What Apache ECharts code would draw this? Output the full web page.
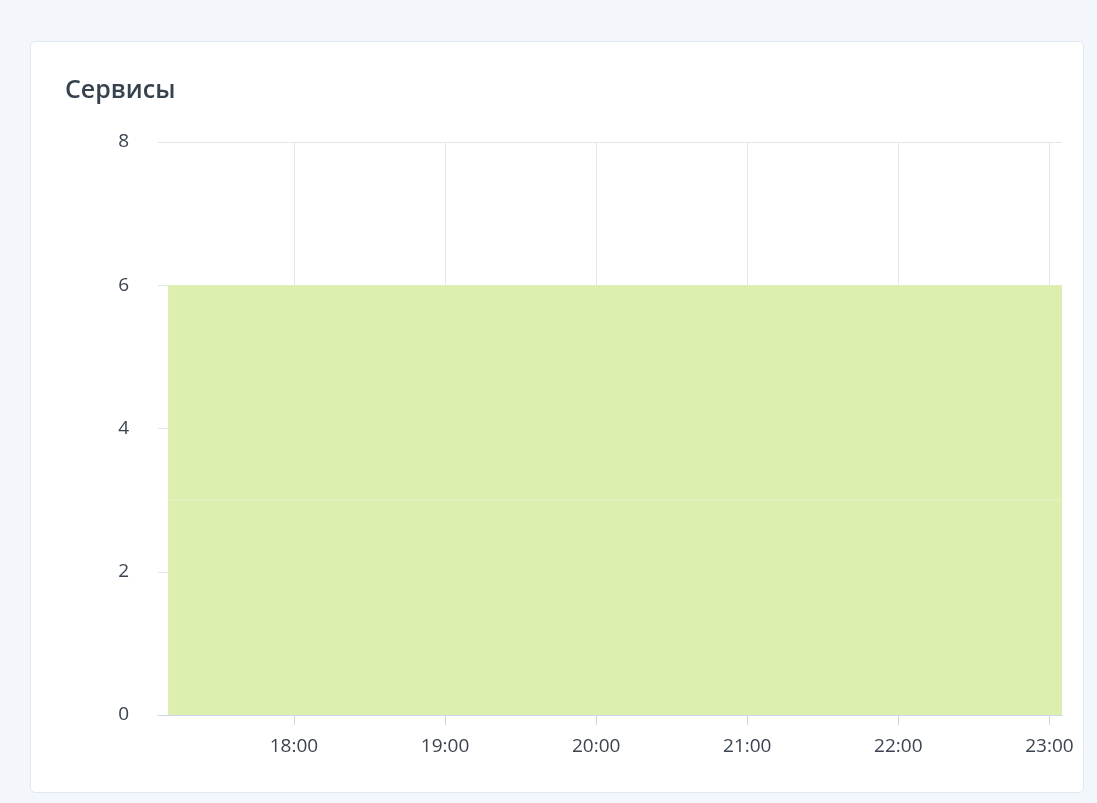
<!DOCTYPE html>
<html>
<head>
<meta charset="utf-8">
<script src="https://cdn.jsdelivr.net/npm/echarts@6/dist/echarts.min.js"></script>
<style>
html,body{margin:0;padding:0;width:1097px;height:803px;background:#f3f6fb;overflow:hidden;}
#card{position:absolute;left:30px;top:41px;width:1054px;height:752px;background:#fff;border:1px solid #e2e8f3;border-radius:5px;box-sizing:border-box;}
#chart{position:absolute;left:0;top:0;width:1097px;height:803px;}
</style>
</head>
<body>
<div id="card"></div>
<div id="chart"></div>
<script>
var titleText = 'Сервисы';
var times = ['17:10','17:20','17:30','17:40','17:50','18:00','18:10','18:20','18:30','18:40','18:50',
  '19:00','19:10','19:20','19:30','19:40','19:50','20:00','20:10','20:20','20:30','20:40','20:50',
  '21:00','21:10','21:20','21:30','21:40','21:50','22:00','22:10','22:20','22:30','22:40','22:50',
  '23:00','23:05'];
var seriesA = [3,3,3,3,3,3,3,3,3,3,3,3,3,3,3,3,3,3,3,3,3,3,3,3,3,3,3,3,3,3,3,3,3,3,3,3,3];
var seriesB = [3,3,3,3,3,3,3,3,3,3,3,3,3,3,3,3,3,3,3,3,3,3,3,3,3,3,3,3,3,3,3,3,3,3,3,3,3];
var day = '2024-01-01 ';
var axisMin = day + '17:06';
var axisMax = day + '23:05';

function toPairs(vals){ return times.map(function(t,i){ return [day + t, vals[i]]; }); }

var chart = echarts.init(document.getElementById('chart'), null, {renderer:'canvas'});
var fontFam = '"Open Sans", "Noto Sans", sans-serif';
chart.setOption({
  animation:false,
  backgroundColor:'transparent',
  title:{text:titleText,left:60,top:73,textStyle:{fontFamily:fontFam,fontSize:25,fontWeight:600,color:'#37424f'}},
  grid:{left:158,right:35,top:142,bottom:88,containLabel:false},
  xAxis:{
    type:'time',min:axisMin,max:axisMax,
    interval:3600*1000,
    axisLine:{show:true,lineStyle:{color:'#ccd6eb',width:1}},
    axisTick:{show:true,length:10,lineStyle:{color:'#ccd6eb'}},
    axisLabel:{fontFamily:fontFam,fontSize:19,color:'#3b4450',margin:22,
      formatter:function(v){var d=new Date(v);return String(d.getHours()).padStart(2,'0')+':'+String(d.getMinutes()).padStart(2,'0');}},
    splitLine:{show:true,showMinLine:false,showMaxLine:false,lineStyle:{color:'#e6e6e6',width:1}}
  },
  yAxis:{
    type:'value',min:0,max:8,interval:2,
    axisLine:{show:false},axisTick:{show:false},
    axisLabel:{fontFamily:fontFam,fontSize:19,color:'#3b4450',margin:29},
    splitLine:{show:true,lineStyle:{color:'#e6e6e6',width:1}}
  },
  series:[
    {type:'line',stack:'s',data:toPairs(seriesA),symbol:'none',
     lineStyle:{width:1,color:'#e3f1c2'},areaStyle:{color:'#dcefae',opacity:1}},
    {type:'line',stack:'s',data:toPairs(seriesB),symbol:'none',
     lineStyle:{width:0,color:'#dcefae'},areaStyle:{color:'#dcefae',opacity:1}}
  ]
});
</script>
</body>
</html>
